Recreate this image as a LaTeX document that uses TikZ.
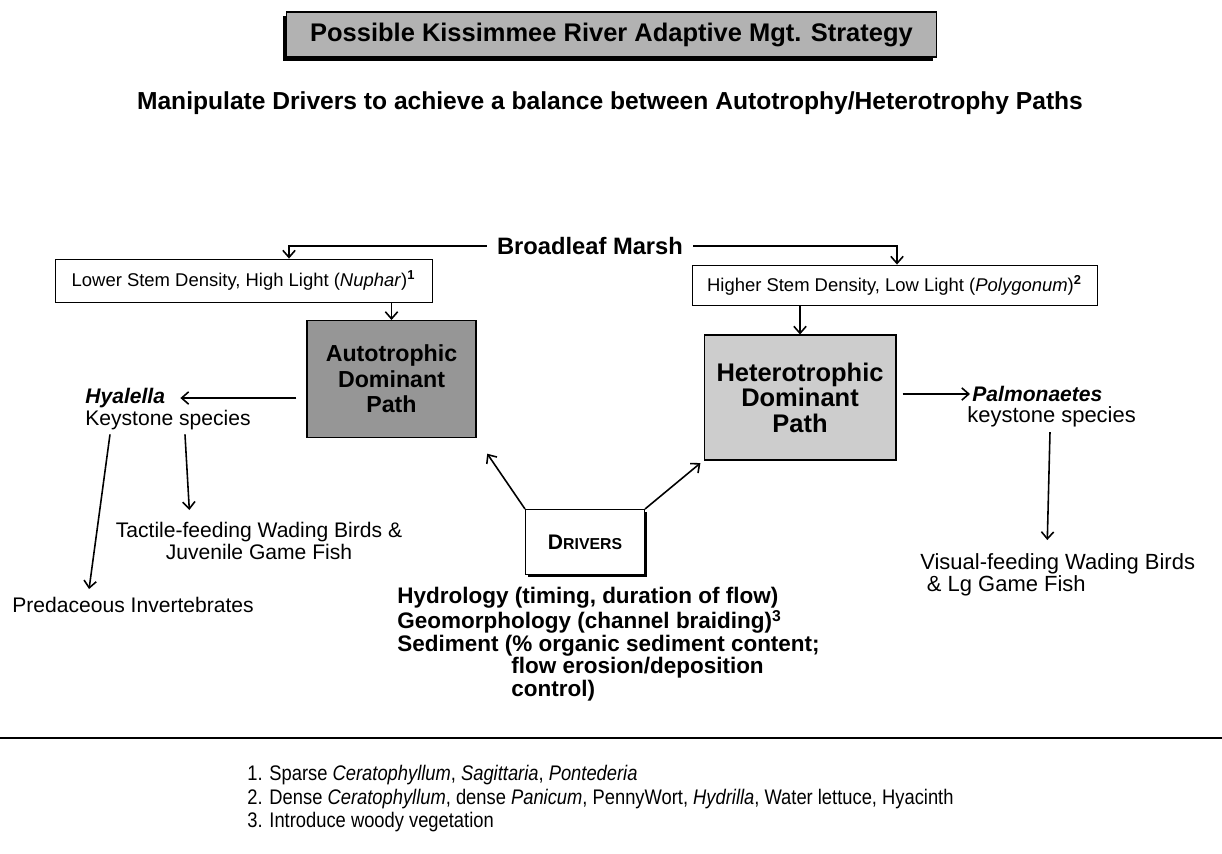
\documentclass[tikz,border=0pt]{standalone}
\usepackage{fontspec}
\setmainfont{Liberation Sans}
\newfontfamily\narrowsans{Liberation Sans}[FakeStretch=0.87]
\usetikzlibrary{arrows.meta, positioning, shadows}
\definecolor{bannergray}{RGB}{178,178,178}
\definecolor{autogray}{RGB}{150,150,150}
\definecolor{heterogray}{RGB}{205,205,205}

\newcommand{\dsc}[1]{{\fontsize{9}{10}\selectfont #1}}

\begin{document}
\begin{tikzpicture}[x=0.02cm, y=-0.02cm,
    every node/.style={inner sep=0pt, font=\fontsize{10.5}{12.5}\selectfont},
    plainbox/.style={draw, line width=0.5pt},
    pathbox/.style={draw, line width=0.6pt, align=center},
    conn/.style={-{Straight Barb[length=4pt,width=7pt]}, line width=0.9pt},
    boldlbl/.style={font=\fontsize{12}{14}\selectfont\bfseries\itshape},
    sidelbl/.style={font=\fontsize{12}{12.5}\selectfont}]
\useasboundingbox (0,0) rectangle (1222,853);

% Banner
\node[draw, line width=0.6pt, fill=bannergray, minimum width=13.02cm, minimum height=0.9cm,
      font=\fontsize{14.5}{16}\selectfont\bfseries,
      drop shadow={shadow xshift=-0.07cm, shadow yshift=-0.08cm, fill=black, opacity=1}]
      (banner) at (611.5,34.5) {Possible Kissimmee River Adaptive Mgt. Strategy};
\node[font=\fontsize{14}{16}\selectfont\bfseries] (goal) at (610,103)
      {Manipulate Drivers to achieve a balance between Autotrophy/Heterotrophy Paths};

% Broadleaf marsh splits in two
\node[font=\fontsize{13.5}{15}\selectfont\bfseries, inner xsep=0.2cm] (marsh) at (590,246) {Broadleaf Marsh};
\node[plainbox, minimum width=7.54cm, minimum height=0.86cm] (lowstem) at (243.5,280.5)
      {Lower Stem Density, High Light (\textit{Nuphar})\textsuperscript{\bfseries 1}};
\node[plainbox, minimum width=8.1cm, minimum height=0.8cm] (highstem) at (894.5,285)
      {Higher Stem Density, Low Light (\textit{Polygonum})\textsuperscript{\bfseries 2}};
\draw[conn] (marsh.west) -| ([xshift=0.91cm]lowstem.north);
\draw[conn] (marsh.east) -| ([xshift=0.05cm]highstem.north);

% Dominant paths
\node[pathbox, fill=autogray, minimum width=3.38cm, minimum height=2.34cm,
      font=\fontsize{13.2}{14.5}\selectfont\bfseries] (autopath) at (391.5,379)
      {Autotrophic\\Dominant\\Path};
\node[pathbox, fill=heterogray, minimum width=3.84cm, minimum height=2.5cm,
      font=\fontsize{14.5}{14.5}\selectfont\bfseries] (heteropath) at (800,397.5)
      {Heterotrophic\\Dominant\\Path};
\draw[conn] (lowstem.south -| autopath.north) -- (autopath.north);
\draw[conn] (highstem.south -| heteropath.north) -- (heteropath.north);

% Autotrophic side
\node[boldlbl, anchor=west] (hyalella) at (85,398) {Hyalella};
\node[sidelbl, anchor=north west] (hyalkey) at (85,410) {Keystone species};
\draw[conn, shorten <=0.2cm, shorten >=0.3cm] (autopath.west |- hyalella.east) -- (hyalella.east);
\node[sidelbl, align=center, anchor=north] (tactile) at (259,522)
      {Tactile-feeding Wading Birds \&\\Juvenile Game Fish};
\node[sidelbl, anchor=north west] (predators) at (12,597) {Predaceous Invertebrates};
\draw[conn, shorten >=0.24cm] ([xshift=2.0cm, yshift=-0.08cm]hyalkey.south west) -- ([xshift=-1.38cm]tactile.north);
\draw[conn, shorten >=0.16cm] ([xshift=0.5cm, yshift=-0.08cm]hyalkey.south west) -- ([xshift=1.52cm]predators.north west);

% Heterotrophic side
\node[boldlbl, anchor=west] (palmon) at (972,394) {Palmonaetes};
\node[anchor=north west, font=\fontsize{12.5}{12.5}\selectfont] (palmkey) at (967,406) {keystone species};
\draw[conn, shorten <=0.12cm, shorten >=0.04cm] (heteropath.east |- palmon.west) -- (palmon.west);
\node[anchor=north west, align=left, font=\fontsize{12.5}{12.5}\selectfont] (visual) at (920,553)
      {Visual-feeding Wading Birds\\\hspace{0.3em}\& Lg Game Fish};
\draw[conn, shorten >=0.26cm] ([xshift=1.66cm, yshift=-0.1cm]palmkey.south west) -- ([xshift=2.54cm]visual.north west);

% Drivers
\node[draw, fill=white, line width=0.6pt, minimum width=2.38cm, minimum height=1.3cm,
      drop shadow={shadow xshift=0.05cm, shadow yshift=-0.05cm, fill=black, opacity=1}]
      (drivers) at (585,542) {\bfseries\fontsize{12}{13}\selectfont D\dsc{RIVERS}};
\draw[conn, shorten >=0.38cm] (drivers.north west) -- (autopath.south east);
\draw[conn, shorten >=0.08cm] (drivers.north east) -- (heteropath.south west);
\node[anchor=north west, align=left, font=\fontsize{12.8}{12.75}\selectfont\bfseries] (factors) at (397,587)
      {Hydrology (timing, duration of flow)\\
       Geomorphology (channel braiding)\textsuperscript{3}\\
       Sediment (\% organic sediment content;\\
       \hspace{2.28cm}flow erosion/deposition\\
       \hspace{2.28cm}control)};

% Separator and notes
\draw[line width=1.2pt] (0,738) -- (1222,738);
\node[anchor=north west, align=left, font=\narrowsans\fontsize{12}{13.3}\selectfont] (notes) at (247,765)
      {1. Sparse \textit{Ceratophyllum}, \textit{Sagittaria}, \textit{Pontederia}\\
       2. Dense \textit{Ceratophyllum}, dense \textit{Panicum}, PennyWort, \textit{Hydrilla}, Water lettuce, Hyacinth\\
       3. Introduce woody vegetation};
\end{tikzpicture}
\end{document}
